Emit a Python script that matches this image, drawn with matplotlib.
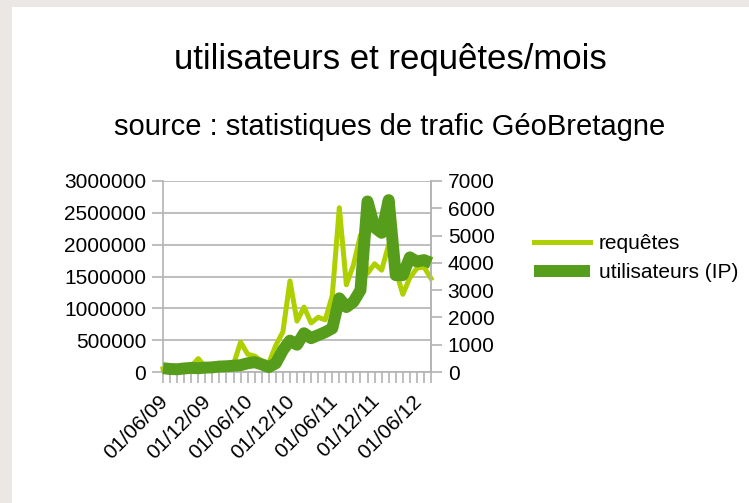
import matplotlib.pyplot as plt
import matplotlib.patches as mpatches
import matplotlib.transforms as mtransforms
from matplotlib.ticker import FuncFormatter
import pandas as pd

plt.rcParams['font.family'] = ['Liberation Sans', 'DejaVu Sans']

# months from 06/2009 to 08/2012
months = pd.date_range('2009-06-01', periods=39, freq='MS')
month_labels = [m.strftime('%d/%m/%y') for m in months]

# requests per month (left axis)
requetes = [50000, 70000, 60000, 70000, 90000, 210000, 80000, 70000, 90000, 100000,
            120000, 470000, 280000, 250000, 170000, 140000, 420000, 630000, 1430000, 800000,
            1020000, 770000, 860000, 820000, 1200000, 2580000, 1370000, 1680000, 2150000, 1550000,
            1700000, 1600000, 2000000, 1600000, 1220000, 1480000, 1630000, 1650000, 1470000]

# users (IP) per month (right axis)
utilisateurs = [140, 110, 100, 130, 150, 140, 160, 170, 200, 210,
                230, 250, 320, 360, 280, 180, 320, 800, 1150, 1000,
                1420, 1240, 1350, 1460, 1600, 2700, 2380, 2570, 3000, 6250,
                5300, 5100, 6300, 3550, 3550, 4200, 4050, 4100, 4000]

c_req = '#aecf00'
c_usr = '#579d1c'
grid_c = '#b3b3b3'

fig = plt.figure(figsize=(7.49, 5.03), dpi=100)
fig.patch.set_facecolor('#ebe7e4')
fig.patches.append(mpatches.Rectangle((12/749, 0), 1, 1 - 7/503, transform=fig.transFigure,
                                      facecolor='white', edgecolor='none', zorder=-1))

fig.text(390/749, 1 - 60/503, 'utilisateurs et requêtes/mois', ha='center', va='center', fontsize=25)
fig.text(390/749, 1 - 127/503, 'source : statistiques de trafic GéoBretagne', ha='center', va='center', fontsize=21)

ax = fig.add_axes([163/749, 1 - 372/503, (431 - 163)/749, (372 - 181)/503])
ax.set_facecolor('none')
x = list(range(len(months)))

l1, = ax.plot(x, requetes, color=c_req, lw=3.6, solid_joinstyle='round', clip_on=False, zorder=3)
ax.set_xlim(0, len(months) - 1)
ax.set_ylim(0, 3000000)
ax.set_yticks(range(0, 3000001, 500000))
ax.yaxis.set_major_formatter(FuncFormatter(lambda v, p: f'{int(v)}'))
ax.grid(axis='y', color=grid_c, lw=1.2)
ax.set_axisbelow(True)

# x ticks at every month, labels every 6 months (drawn as texts to offset them)
ax.set_xticks(x)
ax.set_xticklabels([])
shift = mtransforms.ScaledTranslation(9/100, -19.5/100, fig.dpi_scale_trans)
for i, lab in enumerate(month_labels):
    if i % 6 == 0:
        ax.text(i, 0, lab, transform=ax.get_xaxis_transform() + shift,
                rotation=45, ha='right', va='top', fontsize=15)
ax.tick_params(axis='x', length=8, color=grid_c, width=1.2)
ax.tick_params(axis='y', length=8, color=grid_c, width=1.2, labelsize=15, pad=4)

for s in ['top']:
    ax.spines[s].set_visible(False)
for s in ['left', 'right', 'bottom']:
    ax.spines[s].set_color(grid_c)
    ax.spines[s].set_linewidth(1.2)

ax2 = ax.twinx()
l2, = ax2.plot(x, utilisateurs, color=c_usr, lw=8.6, solid_joinstyle='round',
               solid_capstyle='butt', clip_on=False, zorder=4)
ax2.set_ylim(0, 7000)
ax2.set_yticks(range(0, 7001, 1000))
ax2.tick_params(axis='y', length=8, color=grid_c, width=1.2, labelsize=15, pad=4)
for s in ['top', 'left', 'bottom']:
    ax2.spines[s].set_visible(False)
ax2.spines['right'].set_color(grid_c)
ax2.spines['right'].set_linewidth(1.2)

fig.legend([l1, l2], ['requêtes', 'utilisateurs (IP)'], loc='center left',
           bbox_to_anchor=(534/749, 1 - 258/503), frameon=False, fontsize=15,
           handlelength=2.7, handletextpad=0.4, labelspacing=0.5, borderpad=0, borderaxespad=0)

fig.savefig('out.png', dpi=100)
